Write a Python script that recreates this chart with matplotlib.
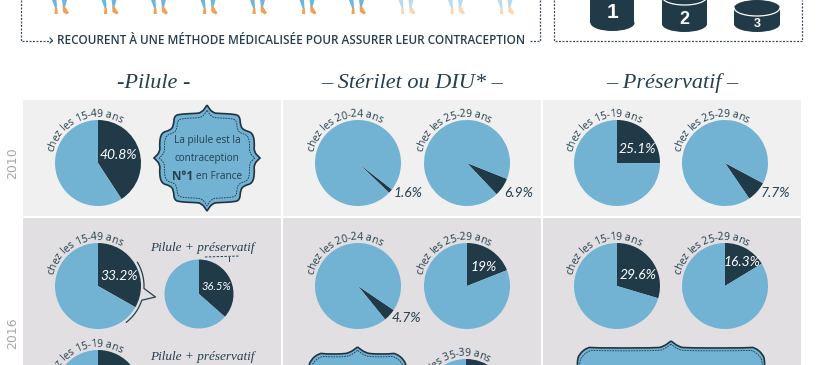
import numpy as np
import matplotlib
matplotlib.use("Agg")
import matplotlib.pyplot as plt
from matplotlib.path import Path
from matplotlib.patches import PathPatch, Rectangle, Ellipse, Polygon
from matplotlib.font_manager import FontProperties

W, H = 820, 365
DARK = "#203a47"; BLUE = "#72b2d3"; TXT = "#24404f"
P2010 = "#f0f0f0"; P2016 = "#e2dfe2"

# ---------- data ----------
headings = ["-Pilule -", "– Stérilet ou DIU* –", "– Préservatif –"]
caption = "RECOURENT À UNE MÉTHODE MÉDICALISÉE POUR ASSURER LEUR CONTRACEPTION"
years = ["2010", "2016"]
pie_groups = ["15-49", "20-24", "25-29", "15-19", "25-29", "15-49", "20-24", "25-29",
              "15-19", "25-29", "15-19", "35-39"]
pie_values = [40.8, 1.6, 6.9, 25.1, 7.7, 33.2, 4.7, 19.0, 29.6, 16.3, 30.0, 22.0]
pie_labels = ["40.8%", "1.6%", "6.9%", "25.1%", "7.7%", "33.2%", "4.7%", "19%", "29.6%", "16.3%", "", ""]
pie_starts = [0, 128, 111.7, 0, 118, 0, 124, 0, 0, 0, 0, 0]
small_value = 36.5
small_label = "36.5%"
n_people = 10
n_people_solid = 7
cylinder_labels = ["1", "2", "3"]

# ---------- layout ----------
pie_xy = [(98, 163), (358, 163), (467, 163), (617, 163), (725, 163),
          (98, 286), (358, 286), (467, 286), (617, 286), (725, 286),
          (98, 393), (466, 402)]
pie_r = 43
label_xy = [(118, 155), (408, 193), (519, 193), (637, 149), (776, 193),
            (119, 276), (406, 318), (484, 267), (638, 275), (742, 262), None, None]
label_col = ["w", TXT, TXT, "w", TXT, "w", TXT, "w", "w", "w", "w", "w"]
small_xy = (199, 294); small_r = 34.5

fig = plt.figure(figsize=(W / 100, H / 100), dpi=100, facecolor="white")
def layer(z):
    a = fig.add_axes([0, 0, 1, 1], zorder=z)
    a.set_xlim(0, W); a.set_ylim(H, 0); a.axis("off"); a.patch.set_alpha(0)
    return a
bg = layer(0); fg = layer(5)

SANS = "Open Sans"; SCRIPT = "Liberation Serif"; NUM = "Lato"

# panels
for x0, x1 in [(23, 281), (283, 541), (543, 801)]:
    bg.add_patch(Rectangle((x0, 100), x1 - x0, 116, fc=P2010, ec="none"))
    bg.add_patch(Rectangle((x0, 218), x1 - x0, 150, fc=P2016, ec="none"))

# dashed frames
dash = dict(color="#3a4f5b", lw=0.9, ls=(0, (1.6, 1.2)))
bg.plot([21.5, 21.5, 52], [0, 40.5, 40.5], **dash)
bg.plot([50, 52.5, 50], [38, 40.5, 43], color=TXT, lw=0.8)
bg.plot([530, 540, 540], [40.5, 40.5, 0], **dash)
bg.plot([554, 554, 802, 802], [0, 40.5, 40.5, 0], **dash)
fg.text(291.5, 40.5, caption, family=SANS, fontsize=8.48, color=TXT, ha="center", va="center", weight="semibold")

# people legs
def person(x0, blue, orange):
    bg.add_patch(Polygon([(0+x0, 0), (4.5+x0, 0), (5+x0, 8), (3+x0, 8)], fc=blue, ec="none"))
    bg.add_patch(Polygon([(10+x0, 0), (15+x0, 0), (13+x0, 7), (11+x0, 7)], fc=blue, ec="none"))
    bg.add_patch(Polygon([(3+x0, 8), (5.3+x0, 8), (5.8+x0, 14), (2.5+x0, 14)], fc=orange, ec="none"))
    bg.add_patch(Polygon([(10.5+x0, 6.5), (13+x0, 6.5), (17+x0, 13), (15+x0, 14.5), (11+x0, 12)], fc=orange, ec="none"))
for k in range(n_people):
    solid = k < n_people_solid
    person(52 + 49.5 * k, "#6fb6dc" if solid else "#b9dbee", "#f2a057" if solid else "#fad6b5")

# cylinders
cyl = [(612.5, -12, 23, 22, 1, 13, 15), (684.5, -3, 24, 22.5, 1, 19, 13), (757, 8, 24, 23, 1, 24, 9)]
for lab, (cx, top, bot, hw, _, ty, fs) in zip(cylinder_labels, cyl):
    hh = 8
    bg.add_patch(Rectangle((cx - hw, top), 2 * hw, bot - top, fc=DARK, ec="none"))
    bg.add_patch(Ellipse((cx, bot), 2 * hw, 2 * hh, fc=DARK, ec="none"))
    bg.add_patch(Ellipse((cx, top), 2 * hw, 2 * hh, fc=DARK, ec="none"))
    t = np.linspace(0, np.pi, 40)
    bg.plot(cx + (hw - .3) * np.cos(t), top + hh * np.sin(t), color="white", lw=0.9)
    fg.text(cx, ty, lab, color="white", family="Liberation Sans", weight="bold", fontsize=fs, ha="center", va="center")

# headings
for txt, x, fs in zip(headings, [154, 412, 672], [16, 16, 16]):
    fg.text(x, 83, txt, family=SCRIPT, style="italic", fontsize=fs, color=TXT, ha="center", va="center")
fg.text(202.5, 248, "Pilule + préservatif", family=SCRIPT, style="italic", fontsize=9.5, color=TXT, ha="center", va="center")
fg.text(202.5, 357, "Pilule + préservatif", family=SCRIPT, style="italic", fontsize=9.5, color=TXT, ha="center", va="center")
bg.plot([205, 240], [257, 256], color=TXT, lw=0.7, ls=(0, (2.5, 1.5)))
bg.plot([229, 229], [257, 261], color=TXT, lw=0.7)

# years
fg.text(13, 163, years[0], rotation=90, color="#a8a8a8", fontsize=9, family="DejaVu Sans", ha="center", va="center")
fg.text(13, 333, years[1], rotation=90, color="#a8a8a8", fontsize=9, family="DejaVu Sans", ha="center", va="center")

# pies
def pie(cx, cy, r, value, start):
    a = fig.add_axes([(cx - r) / W, 1 - (cy + r) / H, 2 * r / W, 2 * r / H], zorder=2)
    a.pie([value, 100 - value], colors=[DARK, BLUE], startangle=90 - start, counterclock=False,
          radius=1, wedgeprops=dict(linewidth=0))
    a.set_xlim(-1, 1); a.set_ylim(-1, 1); a.patch.set_alpha(0)
for (cx, cy), v, s in zip(pie_xy, pie_values, pie_starts):
    pie(cx, cy, pie_r, v, s)
pie(small_xy[0], small_xy[1], small_r, small_value, 0)

# pct labels
for xy, lab, c in zip(label_xy, pie_labels, label_col):
    if xy:
        fg.text(xy[0], xy[1], lab, color=c, family=NUM, style="italic", fontsize=10, ha="center", va="center")
fg.text(216, 286, small_label, color="w", family=NUM, style="italic", fontsize=8, ha="center", va="center")

# curved labels
rend = fig.canvas.get_renderer()
prop = FontProperties(family=SANS, size=7.6)
def adv(ch):
    w = lambda s: rend.get_text_width_height_descent(s, prop, False)[0]
    return (w("n" + ch + "n") - w("nn")) * 0.95
def curved(cx, cy, R, text, mid=-23.5):
    ws = [adv(c) for c in text]
    a = mid - np.degrees(sum(ws) / 2 / R)
    for c, w in zip(text, ws):
        th = a + np.degrees(w / 2 / R)
        x = cx + R * np.sin(np.radians(th)); y = cy - R * np.cos(np.radians(th))
        fg.text(x, y, c, fontproperties=prop, color=TXT, rotation=-th, rotation_mode="anchor",
                ha="center", va="baseline")
        a += np.degrees(w / R)
for (cx, cy), g in zip(pie_xy, pie_groups):
    curved(cx, cy, 46, f"chez les {g} ans")

# plaques
def smooth(pts):
    pts = np.asarray(pts, float)
    n = len(pts)
    verts = [(pts[-1] + pts[0]) / 2]; codes = [Path.MOVETO]
    for i in range(n):
        verts += [pts[i], (pts[i] + pts[(i + 1) % n]) / 2]
        codes += [Path.CURVE3, Path.CURVE3]
    return Path(verts, codes)

def plaque_pts(cx, cy, q):
    q = np.asarray(q, float)
    left = q
    bottom_left = (q * [1, -1])[::-1][1:]
    bottom_right = (q * [-1, -1])[1:]
    top_right = (q * [-1, 1])[::-1][1:-1]
    return np.vstack([left, bottom_left, bottom_right, top_right]) + [cx, cy]

def draw_plaque(cx, cy, q, sx, sy):
    pts = plaque_pts(cx, cy, q)
    bg.add_patch(PathPatch(smooth(pts), fc=BLUE, ec="#1f3442", lw=1.2, zorder=3))
    inner = (pts - [cx, cy]) * [sx, sy] + [cx, cy]
    bg.add_patch(PathPatch(smooth(inner), fc="none", ec="#1f3442", lw=0.6, ls=(0, (2, 1.2)), zorder=3))

hw, hh = 53, 53
qn = [(0, -1), (0, -1), (-.10, -.85), (-.25, -.84), (-.48, -.83), (-.62, -.80), (-.63, -.60), (-.70, -.52),
      (-.86, -.48), (-.90, -.28), (-.88, -.12), (-1, 0), (-1, 0)]
draw_plaque(207, 158, np.array(qn) * [hw, hh], .9, .9)

def banner_q(hw, hh, peak):
    return [(0, -hh - peak), (0, -hh - peak), (-8, -hh - 1), (-16, -hh), (-hw + 16, -hh), (-hw + 11, -hh - 1),
            (-hw + 2, -hh + 6), (-hw, -hh + 14), (-hw, 0), (-hw, 0)]
draw_plaque(357.5, 395, banner_q(49, 41, 7), .95, .93)
draw_plaque(671, 395, banner_q(94, 47, 7), .975, .94)

for n, y in [("La pilule est la", 141), ("contraception", 159)]:
    fg.text(207, y, n, family=SANS, fontsize=7.2, color=TXT, ha="center", va="center")
fg.text(172.5, 176, "N°1", family=SANS, weight="bold", fontsize=8.5, color=TXT, ha="left", va="center")
fg.text(196, 176.5, "en France", family=SANS, fontsize=7.2, color=TXT, ha="left", va="center")

# call-out around the 33.2% pie
cx, cy = pie_xy[5]
R = 46
a1 = np.radians(np.linspace(-31, 3, 30))
a2 = np.radians(np.linspace(18, 52, 30))
xs = np.r_[cx + R * np.cos(a1), 155.5, cx + R * np.cos(a2)]
ys = np.r_[cy + R * np.sin(a1), 297, cy + R * np.sin(a2)]
fg.plot(xs, ys, color=TXT, lw=0.9)

fig.savefig("out.png", dpi=100, facecolor="white")
